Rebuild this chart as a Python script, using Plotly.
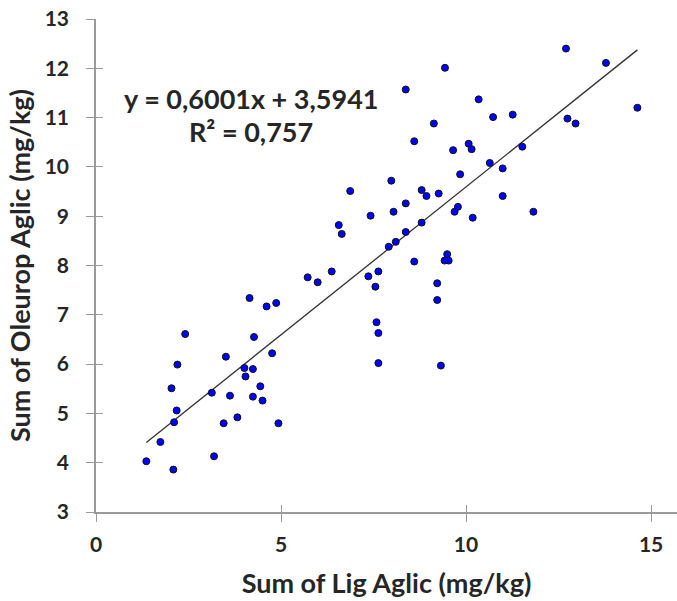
import plotly.graph_objects as go

# Data
lig_aglic = [
    6.87, 7.42, 6.56, 6.64,
    12.70, 9.43, 8.37, 13.78, 14.63, 10.34, 10.73, 11.26, 12.74, 12.96,
    9.13, 8.60, 10.07, 10.15, 9.65, 11.52, 7.98, 10.64, 10.99, 9.84,
    8.80, 8.93, 9.26, 8.04, 8.37, 9.78, 9.69, 10.99, 10.18, 11.82,
    8.80, 8.37, 8.10, 7.91, 9.49,
    8.60, 9.42, 9.53, 9.22, 9.22, 9.32,
    1.36, 2.09, 1.74, 2.11, 2.18, 2.04, 2.20, 2.41, 3.19, 3.13,
    3.45, 3.62, 3.82, 3.51, 4.01, 4.04, 4.24, 4.24, 4.44, 4.50,
    4.93, 4.15, 4.27, 4.76, 4.61, 4.87, 5.72, 5.99, 6.37, 7.36,
    7.63, 7.55, 7.58, 7.63, 7.63,
]
oleurop_aglic = [
    9.51, 9.01, 8.82, 8.64,
    12.40, 12.01, 11.57, 12.11, 11.20, 11.37, 11.01, 11.06, 10.98, 10.88,
    10.88, 10.52, 10.47, 10.36, 10.34, 10.41, 9.72, 10.08, 9.97, 9.85,
    9.53, 9.41, 9.46, 9.09, 9.26, 9.19, 9.09, 9.41, 8.97, 9.09,
    8.87, 8.68, 8.48, 8.38, 8.23,
    8.08, 8.10, 8.10, 7.64, 7.30, 5.97,
    4.03, 3.86, 4.42, 4.82, 5.06, 5.51, 5.99, 6.61, 4.13, 5.42,
    4.80, 5.36, 4.92, 6.15, 5.92, 5.75, 5.90, 5.34, 5.55, 5.26,
    4.80, 7.34, 6.55, 6.22, 7.17, 7.24, 7.76, 7.66, 7.88, 7.78,
    7.88, 7.57, 6.85, 6.63, 6.02,
]
slope = 0.6001
intercept = 3.5941
eq_text = "y = 0,6001x + 3,5941"
r2_text = "R² = 0,757"
x_title = "Sum of Lig Aglic (mg/kg)"
y_title = "Sum of Oleurop Aglic (mg/kg)"
x_ticks = [0, 5, 10, 15]
y_ticks = [3, 4, 5, 6, 7, 8, 9, 10, 11, 12, 13]

FONT = "Lato, 'Open Sans', sans-serif"
TXT = "#262626"
GRAY = "#9a9a9a"

x_min, x_max = min(lig_aglic), max(lig_aglic)
trend_x = [x_min, x_max]
trend_y = [slope * v + intercept for v in trend_x]

fig = go.Figure()
fig.add_trace(go.Scatter(
    x=trend_x, y=trend_y, mode="lines",
    line=dict(color="#333333", width=1.3),
    hoverinfo="skip", showlegend=False,
))
fig.add_trace(go.Scatter(
    x=lig_aglic, y=oleurop_aglic, mode="markers",
    marker=dict(color="#0000ff", size=7, line=dict(color="#111111", width=1)),
    showlegend=False,
))
# invisible trace for the overlay axes that draw the inner half of crossing ticks
fig.add_trace(go.Scatter(x=[None], y=[None], xaxis="x2", yaxis="y2",
                         showlegend=False, hoverinfo="skip"))

xr = [0, 15.70]
yr = [3, 13]

fig.update_layout(
    width=677, height=601,
    margin=dict(l=96, r=0, t=19, b=89),
    paper_bgcolor="white", plot_bgcolor="white",
    font=dict(family=FONT, color=TXT),
    xaxis=dict(
        range=xr, tickvals=x_ticks, ticks="outside", ticklen=8, tickwidth=1,
        tickcolor=GRAY, showline=True, linecolor=GRAY, linewidth=1.5,
        showgrid=False, zeroline=False,
        tickfont=dict(size=21, family=FONT, color=TXT, weight="bold"),
        ticklabelstandoff=5,
        title=dict(text=x_title, font=dict(size=27, family=FONT, color=TXT, weight="bold"),
                   standoff=19),
    ),
    yaxis=dict(
        range=yr, tickvals=y_ticks, ticks="outside", ticklen=8, tickwidth=1,
        tickcolor=GRAY, showline=True, linecolor=GRAY, linewidth=1.5,
        showgrid=False, zeroline=False,
        tickfont=dict(size=21, family=FONT, color=TXT, weight="bold"),
        ticklabelstandoff=13,
        title=dict(text=y_title, font=dict(size=27, family=FONT, color=TXT, weight="bold"),
                   standoff=6),
    ),
    xaxis2=dict(
        range=xr, tickvals=x_ticks, ticks="inside", ticklen=7, tickwidth=1,
        tickcolor=GRAY, showticklabels=False, showline=False, showgrid=False,
        zeroline=False, overlaying="x", side="bottom", anchor="y2",
    ),
    yaxis2=dict(
        range=yr, tickvals=y_ticks, ticks="inside", ticklen=7, tickwidth=1,
        tickcolor=GRAY, showticklabels=False, showline=False, showgrid=False,
        zeroline=False, overlaying="y", side="left", anchor="x2",
    ),
    annotations=[
        dict(text=eq_text, x=4.2, y=11.39, xref="x", yref="y", showarrow=False,
             xanchor="center", yanchor="middle",
             font=dict(size=27, family=FONT, color=TXT, weight="bold")),
        dict(text=r2_text, x=4.2, y=10.71, xref="x", yref="y", showarrow=False,
             xanchor="center", yanchor="middle",
             font=dict(size=27, family=FONT, color=TXT, weight="bold")),
    ],
)

fig.write_html("out.html")
